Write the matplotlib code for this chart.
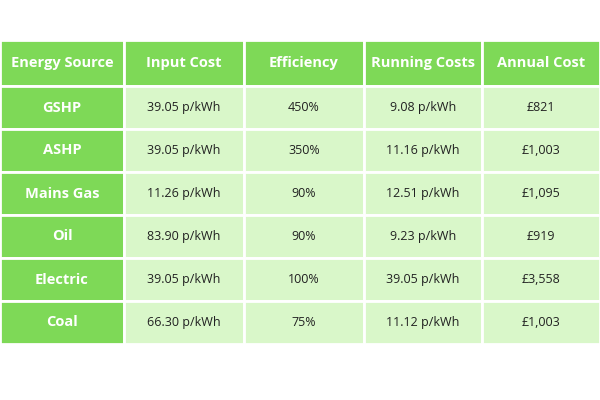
import matplotlib
matplotlib.use("Agg")
from matplotlib import pyplot as plt
from matplotlib.patches import Rectangle

headers = ["Energy Source", "Input Cost", "Efficiency", "Running Costs", "Annual Cost"]
sources = ["GSHP", "ASHP", "Mains Gas", "Oil", "Electric", "Coal"]
input_cost = ["39.05 p/kWh", "39.05 p/kWh", "11.26 p/kWh", "83.90 p/kWh", "39.05 p/kWh", "66.30 p/kWh"]
efficiency = ["450%", "350%", "90%", "90%", "100%", "75%"]
running = ["9.08 p/kWh", "11.16 p/kWh", "12.51 p/kWh", "9.23 p/kWh", "39.05 p/kWh", "11.12 p/kWh"]
annual = ["£821", "£1,003", "£1,095", "£919", "£3,558", "£1,003"]

dark = "#7ed957"
light = "#d9f7c9"
col_x = [0, 124, 244, 364, 482, 600]
top = 40
head_h = 46
row_h = 43

fig = plt.figure(figsize=(6, 4), dpi=100)
ax = fig.add_axes([0, 0, 1, 1])
ax.set_xlim(0, 600)
ax.set_ylim(400, 0)
ax.axis("off")

def cell(x0, x1, y0, h, text, fc, color, bold):
    ax.add_patch(Rectangle((x0, y0), x1 - x0, h, facecolor=fc, edgecolor="white", linewidth=2))
    ax.text((x0 + x1) / 2, y0 + h / 2, text, ha="center", va="center", color=color,
            fontsize=10.5 if bold else 9, fontweight="bold" if bold else "normal",
            family="Open Sans")

for i, h in enumerate(headers):
    cell(col_x[i], col_x[i + 1], top, head_h, h, dark, "white", True)

cols = [sources, input_cost, efficiency, running, annual]
for r in range(len(sources)):
    y0 = top + head_h + r * row_h
    for c, data in enumerate(cols):
        if c == 0:
            cell(col_x[c], col_x[c + 1], y0, row_h, data[r], dark, "white", True)
        else:
            cell(col_x[c], col_x[c + 1], y0, row_h, data[r], light, "#222222", False)

fig.savefig("out.png", dpi=100)
